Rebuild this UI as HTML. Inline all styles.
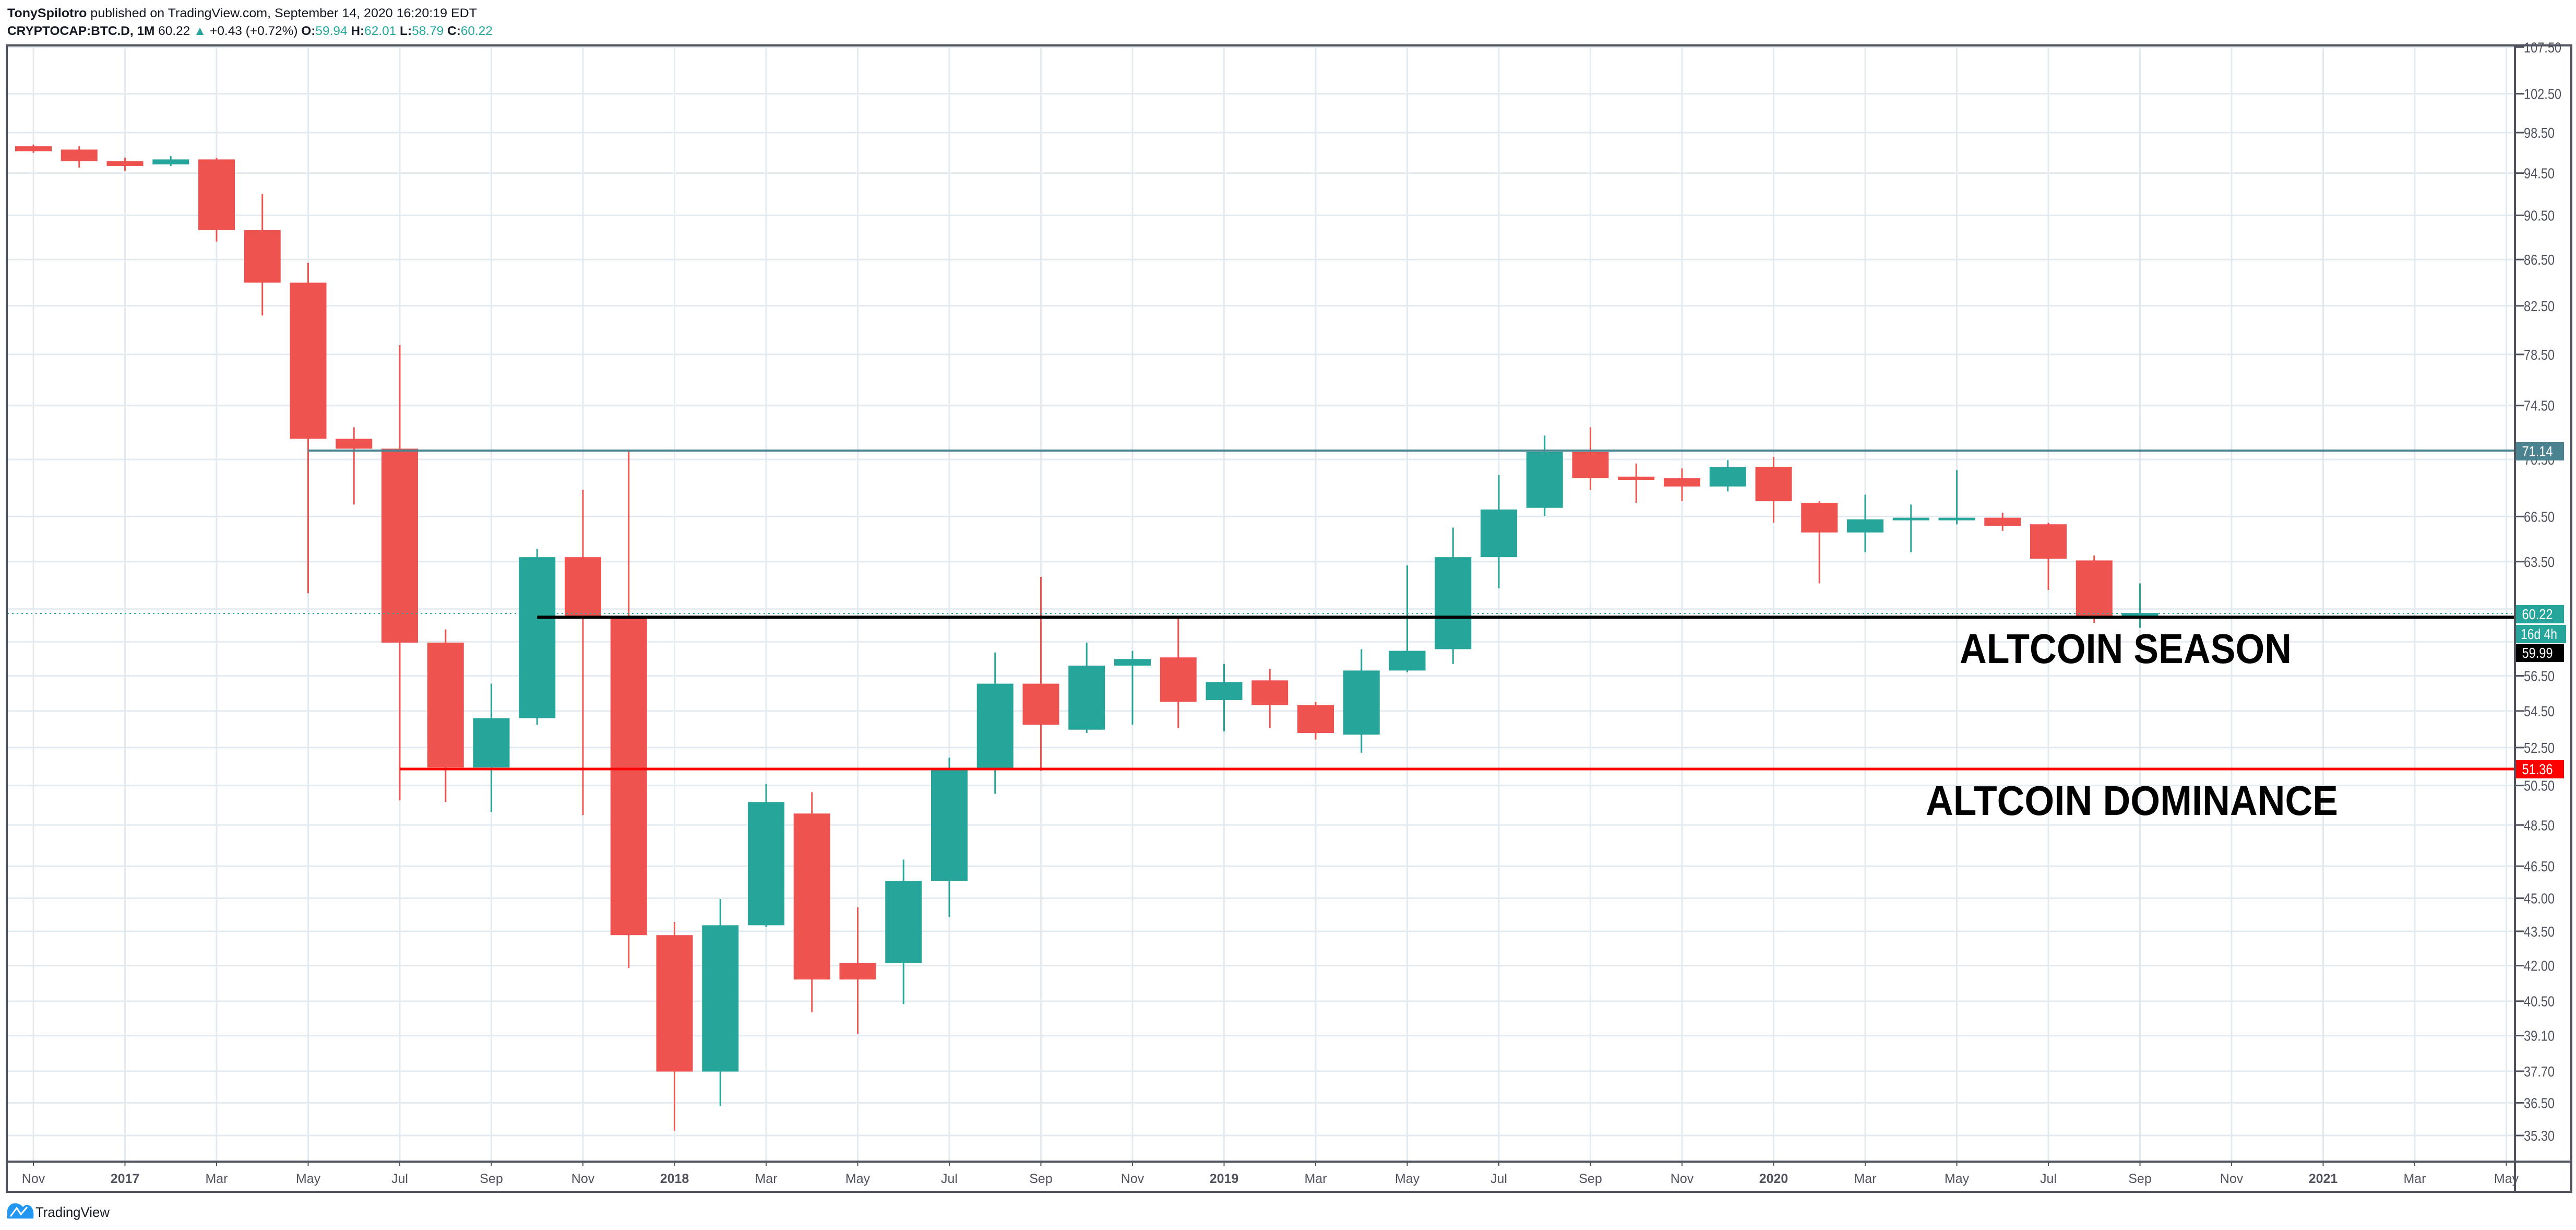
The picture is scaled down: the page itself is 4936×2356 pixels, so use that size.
<!DOCTYPE html>
<html><head><meta charset="utf-8">
<style>
html,body{margin:0;padding:0;background:#fff;}
body{width:4936px;height:2356px;overflow:hidden;}
svg{display:block;}
</style></head>
<body>
<svg id="s" width="4936" height="2356" xmlns="http://www.w3.org/2000/svg" font-family="Liberation Sans, DejaVu Sans, sans-serif">
</svg>
<script>
const S=document.getElementById('s');let h='';
const L=4.0, R=4819, T=87, B=2225;
function y(v){return 1473-(Math.log(v)-Math.log(51.36))*1872;}
function X(i){return 64+i*87.75;}
// header
h+=`<text x="14" y="33" font-size="24" fill="#131722" textLength="900" lengthAdjust="spacingAndGlyphs"><tspan font-weight="bold">TonySpilotro</tspan> published on TradingView.com, September 14, 2020 16:20:19 EDT</text>`;
h+=`<text x="14" y="67" font-size="24" fill="#131722" textLength="930" lengthAdjust="spacingAndGlyphs"><tspan font-weight="bold">CRYPTOCAP:BTC.D, 1M</tspan> 60.22 <tspan fill="#26a69a">▲</tspan> +0.43 (+0.72%) <tspan font-weight="bold">O:</tspan><tspan fill="#26a69a">59.94</tspan> <tspan font-weight="bold">H:</tspan><tspan fill="#26a69a">62.01</tspan> <tspan font-weight="bold">L:</tspan><tspan fill="#26a69a">58.79</tspan> <tspan font-weight="bold">C:</tspan><tspan fill="#26a69a">60.22</tspan></text>`;
// grid
const ticks=[107.5,102.5,98.5,94.5,90.5,86.5,82.5,78.5,74.5,70.5,66.5,63.5,60.5,58.5,56.5,54.5,52.5,50.5,48.5,46.5,45,43.5,42,40.5,39.1,37.7,36.5,35.3];
const hidden={60.5:1,58.5:1};
for(const t of ticks){const yy=y(t);h+=`<line x1="14" x2="${R}" y1="${yy}" y2="${yy}" stroke="#e3ebf1" stroke-width="3"/>`;
 h+=`<line x1="${R}" x2="${R+18}" y1="${yy}" y2="${yy}" stroke="#50535e" stroke-width="3"/>`;
 if(!hidden[t]){const s=t.toFixed(2);h+=`<text x="${R+17}" y="${yy+10}" font-size="28" fill="#50535e" textLength="${s.length>5?72:59}" lengthAdjust="spacingAndGlyphs">${s}</text>`;}}
const mons=['Nov','2017','Mar','May','Jul','Sep','Nov','2018','Mar','May','Jul','Sep','Nov','2019','Mar','May','Jul','Sep','Nov','2020','Mar','May','Jul','Sep','Nov','2021','Mar','May'];
mons.forEach((m,k)=>{const xx=X(k*2);h+=`<line x1="${xx}" x2="${xx}" y1="${T}" y2="${B}" stroke="#e3ebf1" stroke-width="3"/>`;
 h+=`<line x1="${xx}" x2="${xx}" y1="${B}" y2="${B+8}" stroke="#50535e" stroke-width="2"/>`;
 const bold=/^\d/.test(m);h+=`<text x="${xx}" y="${2266}" font-size="25" text-anchor="middle" fill="#50535e" ${bold?'font-weight="bold"':''}>${m}</text>`;});
// candles (display coords *3.148) [o,c,hi,lo]
const D=[[89,92,88,93],[91,98,89,102],[98,101,96,104],[100,97,95,101],[97,140,96,147],[140,172,118,192],[172,267,160,361],[267,273,260,307],[273,391,210,487],[391,467,383,488],[467,437,416,494],[437,339,334,441],[339,375,298,496],[375,569,274,589],[569,652,561,688],[652,563,547,673],[563,488,477,564],[495,596,482,616],[586,596,552,629],[586,536,523,611],[536,468,461,558],[468,416,397,483],[416,441,351,469],[444,405,391,446],[405,401,396,441],[400,427,376,443],[426,415,404,445],[414,429,407,443],[429,446,427,450],[447,408,395,458],[408,396,344,409],[395,339,321,404],[339,310,289,358],[309,275,265,314],[275,291,260,298],[290,292,282,306],[291,296,285,305],[296,284,280,299],[284,305,278,318],[306,324,305,355],[324,316,301,336],[316,315,307,336],[316,315,286,319],[315,320,312,323],[319,340,318,359],[341,375,338,379],[375,373,355,382]];
const k=3.148;
D.forEach((d,i)=>{const [o,c,hi,lo]=d.map(v=>v*k);const up=c<o;const col=up?'#26a69a':'#ef5350';const xx=X(i);
 h+=`<line x1="${xx}" x2="${xx}" y1="${hi}" y2="${lo}" stroke="${col}" stroke-width="3"/>`;
 const t=Math.min(o,c),bh=Math.max(Math.abs(o-c),5);h+=`<rect x="${xx-35}" y="${t}" width="70" height="${bh}" fill="${col}"/>`;});
// dotted 60.22
h+=`<line x1="14" x2="${R}" y1="${y(60.22)}" y2="${y(60.22)}" stroke="#26a69a" stroke-width="2" stroke-dasharray="3,6"/>`;
// lines
h+=`<line x1="${X(6)}" x2="${R}" y1="${y(71.14)}" y2="${y(71.14)}" stroke="#4a8490" stroke-width="4"/>`;
h+=`<line x1="${X(11)}" x2="${R}" y1="${y(59.99)}" y2="${y(59.99)}" stroke="#000" stroke-width="6"/>`;
h+=`<line x1="${X(8)}" x2="${R}" y1="${y(51.36)}" y2="${y(51.36)}" stroke="#ff0000" stroke-width="5"/>`;
// label boxes
function box(v,txt,col,x1,x2,yc,fc){h+=`<rect x="${x1}" y="${yc-17}" width="${x2-x1}" height="35" fill="${col}"/><text x="${x1+(x2-x1)/2-4}" y="${yc+10}" font-size="28" fill="${fc||'#fff'}" text-anchor="middle" textLength="${txt.length>5?70:59}" lengthAdjust="spacingAndGlyphs">${txt}</text>`;}
box(0,'71.14','#4a8290',R,4913,864);
box(0,'60.22','#26a69a',R,4913,1176);
box(0,'16d 4h','#26a69a',4821,4917,1214);
box(0,'59.99','#000',R,4913,1250);
box(0,'51.36','#ff0000',R,4913,1473);
// text annotations
h+=`<text x="3755" y="1270" font-size="80" font-weight="bold" fill="#000" textLength="636" lengthAdjust="spacingAndGlyphs">ALTCOIN SEASON</text>`;
h+=`<text x="3690" y="1561" font-size="80" font-weight="bold" fill="#000" textLength="790" lengthAdjust="spacingAndGlyphs">ALTCOIN DOMINANCE</text>`;
// borders
h+=`<rect x="13" y="${T}" width="${4927-13}" height="${2283-T}" fill="none" stroke="#50535e" stroke-width="4"/>`;
h+=`<line x1="${R}" x2="${R}" y1="${T}" y2="2283" stroke="#50535e" stroke-width="4"/>`;
h+=`<line x1="13" x2="4927" y1="${B}" y2="${B}" stroke="#50535e" stroke-width="4"/>`;
// logo
h+=`<path d="M14 2334 L14 2318 Q18 2304 30 2305 Q38 2305 44 2312 Q50 2305 58 2310 Q66 2316 64 2334 Z" fill="#2196f3"/>`;
h+=`<polyline points="20,2330 32,2314 40,2326 52,2312" fill="none" stroke="#fff" stroke-width="3"/>`;
h+=`<text x="68" y="2331" font-size="27" fill="#131722" textLength="142" lengthAdjust="spacingAndGlyphs">TradingView</text>`;
S.innerHTML=h;
</script>
</body></html>
